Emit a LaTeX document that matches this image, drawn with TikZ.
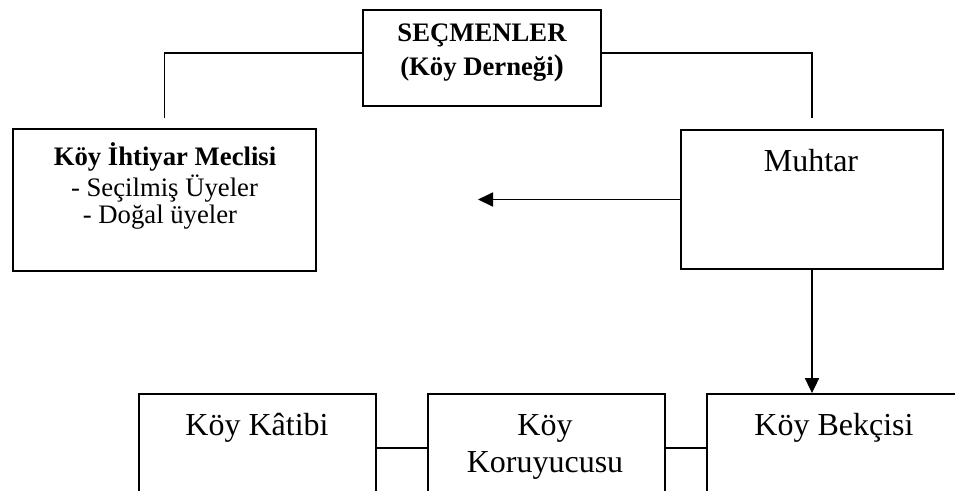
\documentclass[tikz,border=0pt]{standalone}
\usepackage{fontspec}
\setmainfont{Liberation Serif}
\usetikzlibrary{arrows.meta}

\tikzset{
  unit/.style={draw=black, line width=1.8pt, rectangle, inner sep=0pt},
  conn/.style={draw=black, line width=1.8pt},
  arr/.style={conn, -{Triangle[length=15pt,width=14pt]}},
  big/.style={anchor=base, inner sep=0pt, font=\fontsize{32}{36.8}\selectfont},
  small/.style={anchor=base, inner sep=0pt, font=\fontsize{26.7}{30.7}\selectfont},
  smallbf/.style={small, font=\fontsize{26.7}{30.7}\selectfont\bfseries},
}

\begin{document}
\begin{tikzpicture}[x=1pt, y=-1pt]
  \useasboundingbox (0,0) rectangle (955,490);

  % boxes (coordinates in pixels, y pointing down)
  \node[unit, minimum width=238pt, minimum height=96pt] (secmen) at (482,58) {};
  \node[unit, minimum width=303pt, minimum height=142pt] (ihtiyar) at (164.5,200) {};
  \node[unit, minimum width=262pt, minimum height=139pt] (muhtar) at (812,199.5) {};
  \node[unit, minimum width=237pt, minimum height=108pt] (katib) at (257.5,448) {};
  \node[unit, minimum width=237pt, minimum height=108pt] (koruyucu) at (546.5,448) {};
  \node[unit, minimum width=255pt, minimum height=108pt] (bekci) at (834.5,448) {};

  % texts
  \node[smallbf] (secmenA) at (482,41) {SEÇMENLER};
  \node[smallbf] (secmenB) at (482,75) {(Köy Derneği{\fontsize{30}{30}\selectfont)}};

  \node[smallbf] (ihtA) at (165,165) {Köy İhtiyar Meclisi};
  \node[small] (ihtB) at (164.5,196) {- Seçilmiş Üyeler};
  \node[small] (ihtC) at (160,223) {- Doğal üyeler};

  \node[big] (muhtarT) at (811,171) {Muhtar};
  \node[big] (katibT) at (257,435) {Köy Kâtibi};
  \node[big] (korA) at (545,435) {Köy};
  \node[big] (korB) at (545,472) {Koruyucusu};
  \node[big] (bekciT) at (834,435) {Köy Bekçisi};

  % connectors
  \draw[conn] ([yshift=5pt]secmen.west) -| ([yshift=10pt]ihtiyar.north);
  \draw[conn] ([yshift=5pt]secmen.east) -| ([yshift=11pt]muhtar.north);

  \coordinate (tip) at (478,200);
  \draw[arr] (muhtar.west) -- (muhtar.west -| tip);
  \draw[arr] (muhtar.south) -- (muhtar.south |- bekci.north);

  \draw[conn] (katib.east) -- (koruyucu.west);
  \draw[conn] (koruyucu.east) -- (bekci.west);
\end{tikzpicture}
\end{document}
